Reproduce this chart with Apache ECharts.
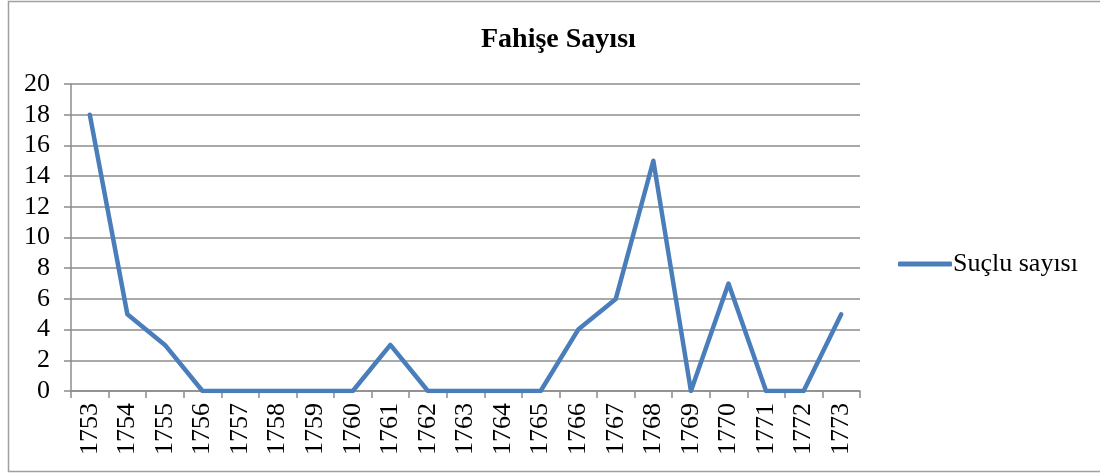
<!DOCTYPE html>
<html>
<head>
<meta charset="utf-8">
<script src="https://cdn.jsdelivr.net/npm/echarts@6/dist/echarts.min.js"></script>
<style>
  html, body { margin: 0; padding: 0; background: #fff; }
  #chart { width: 1100px; height: 474px; }
</style>
</head>
<body>
<div id="chart"></div>
<script>
// data
const years = ['1753', '1754', '1755', '1756', '1757', '1758', '1759', '1760', '1761', '1762',
  '1763', '1764', '1765', '1766', '1767', '1768', '1769', '1770', '1771', '1772', '1773'];
const suclu = [18, 5, 3, 0, 0, 0, 0, 0, 3, 0, 0, 0, 0, 4, 6, 15, 0, 7, 0, 0, 5];
const seriesName = 'Suçlu sayısı';
const titleText = 'Fahişe Sayısı';

const font = '"Liberation Serif", "Times New Roman", serif';
const gridColor = '#8c8c8c';

const chart = echarts.init(document.getElementById('chart'));
chart.setOption({
  backgroundColor: '#fff',
  animation: false,
  title: {
    text: titleText,
    left: 476,
    top: 21,
    textStyle: { fontFamily: font, fontSize: 28, fontWeight: 'bold', color: '#000' }
  },
  legend: {
    data: [seriesName],
    left: 893,
    top: 246,
    itemWidth: 54,
    itemHeight: 5,
    itemGap: 4,
    icon: 'roundRect',
    textStyle: { fontFamily: font, fontSize: 26, color: '#000', padding: [0, 0, 0, -4] }
  },
  graphic: [{
    type: 'rect',
    shape: { x: 8.5, y: 1.5, width: 1100, height: 470 },
    style: { fill: 'none', stroke: '#a0a0a0', lineWidth: 1.5 },
    silent: true
  }],
  grid: { left: 71, right: 240, top: 84, bottom: 83 },
  xAxis: {
    type: 'category',
    data: years,
    boundaryGap: true,
    axisLine: { lineStyle: { color: gridColor, width: 1.5 } },
    axisTick: { show: true, length: 7, lineStyle: { color: gridColor, width: 1.5 } },
    axisLabel: {
      rotate: 90,
      interval: 0,
      margin: 12,
      fontFamily: font,
      fontSize: 26,
      color: '#000'
    }
  },
  yAxis: {
    type: 'value',
    min: 0,
    max: 20,
    interval: 2,
    axisLine: { show: true, lineStyle: { color: gridColor, width: 1.5 } },
    axisTick: { show: true, length: 7, lineStyle: { color: gridColor, width: 1.5 } },
    splitLine: { lineStyle: { color: gridColor, width: 1.5 } },
    axisLabel: { fontFamily: font, fontSize: 26, color: '#000', margin: 21 }
  },
  series: [{
    name: seriesName,
    type: 'line',
    data: suclu,
    symbol: 'none',
    lineStyle: { color: '#4a7ebb', width: 4.5, cap: 'round', join: 'round' },
    itemStyle: { color: '#4a7ebb' }
  }]
});
</script>
</body>
</html>
